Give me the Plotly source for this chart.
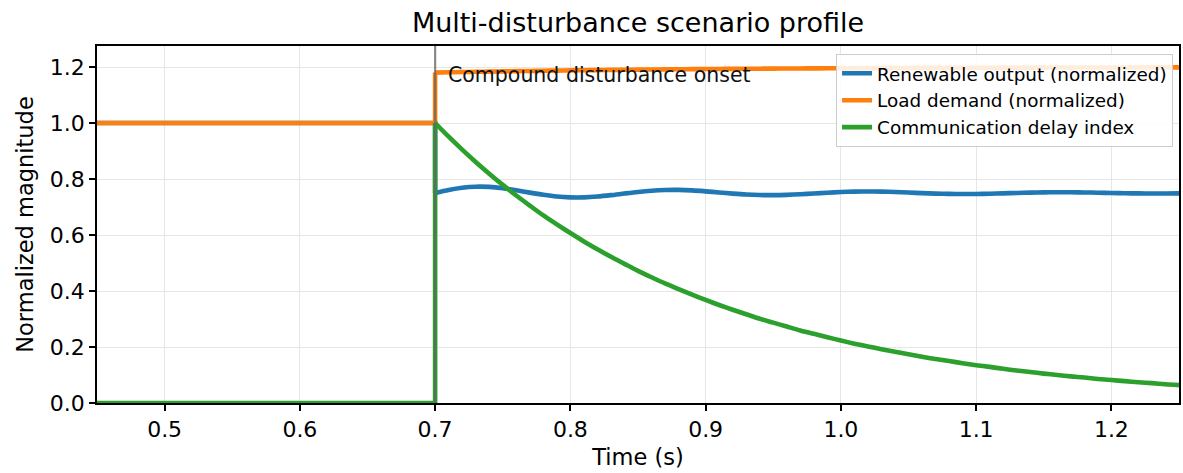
import plotly.graph_objects as go

# Time samples: steady state before onset, then 10 ms samples after onset
t_pre = [0.45, 0.70]
t_post = [0.70, 0.71, 0.72, 0.73, 0.74, 0.75, 0.76, 0.77, 0.78, 0.79,
          0.80, 0.81, 0.82, 0.83, 0.84, 0.85, 0.86, 0.87, 0.88, 0.89,
          0.90, 0.91, 0.92, 0.93, 0.94, 0.95, 0.96, 0.97, 0.98, 0.99,
          1.00, 1.01, 1.02, 1.03, 1.04, 1.05, 1.06, 1.07, 1.08, 1.09,
          1.10, 1.11, 1.12, 1.13, 1.14, 1.15, 1.16, 1.17, 1.18, 1.19,
          1.20, 1.21, 1.22, 1.23, 1.24, 1.25]

renewable_pre = [1.0, 1.0]
renewable_post = [0.7500, 0.7609, 0.7688, 0.7725, 0.7717, 0.7671, 0.7597, 0.7513, 0.7435, 0.7375,
                  0.7345, 0.7345, 0.7374, 0.7423, 0.7482, 0.7538, 0.7581, 0.7606, 0.7610, 0.7592,
                  0.7559, 0.7519, 0.7479, 0.7446, 0.7427, 0.7423, 0.7432, 0.7453, 0.7482, 0.7510,
                  0.7534, 0.7549, 0.7554, 0.7549, 0.7535, 0.7516, 0.7496, 0.7478, 0.7467, 0.7462,
                  0.7465, 0.7474, 0.7487, 0.7501, 0.7513, 0.7522, 0.7526, 0.7525, 0.7520, 0.7511,
                  0.7501, 0.7492, 0.7485, 0.7482, 0.7482, 0.7486]

load_pre = [1.0, 1.0]
load_post = [1.1800, 1.1810, 1.1819, 1.1828, 1.1836, 1.1844, 1.1852, 1.1859, 1.1866, 1.1872,
             1.1879, 1.1885, 1.1890, 1.1896, 1.1901, 1.1906, 1.1910, 1.1915, 1.1919, 1.1923,
             1.1926, 1.1930, 1.1933, 1.1937, 1.1940, 1.1943, 1.1945, 1.1948, 1.1951, 1.1953,
             1.1955, 1.1958, 1.1960, 1.1962, 1.1963, 1.1965, 1.1967, 1.1969, 1.1970, 1.1972,
             1.1973, 1.1974, 1.1976, 1.1977, 1.1978, 1.1979, 1.1980, 1.1981, 1.1982, 1.1983,
             1.1984, 1.1984, 1.1985, 1.1986, 1.1987, 1.1987]

delay_pre = [0.0, 0.0]
delay_post = [1.000, 0.951, 0.905, 0.861, 0.819, 0.779, 0.741, 0.705, 0.670, 0.638,
              0.607, 0.577, 0.549, 0.522, 0.497, 0.472, 0.449, 0.427, 0.407, 0.387,
              0.368, 0.350, 0.333, 0.317, 0.301, 0.287, 0.273, 0.259, 0.247, 0.235,
              0.223, 0.212, 0.202, 0.192, 0.183, 0.174, 0.165, 0.157, 0.150, 0.142,
              0.135, 0.129, 0.122, 0.116, 0.111, 0.105, 0.100, 0.095, 0.091, 0.086,
              0.082, 0.078, 0.074, 0.071, 0.067, 0.064]

onset_time = 0.70
x_ticks = [0.5, 0.6, 0.7, 0.8, 0.9, 1.0, 1.1, 1.2]
y_ticks = [0.0, 0.2, 0.4, 0.6, 0.8, 1.0, 1.2]

FONT = "DejaVu Sans"

series = [
    ("Renewable output (normalized)", "#1f77b4", renewable_pre, renewable_post),
    ("Load demand (normalized)", "#ff7f0e", load_pre, load_post),
    ("Communication delay index", "#2ca02c", delay_pre, delay_post),
]

fig = go.Figure()
for name, color, pre, post in series:
    # steady-state segment plus the step at onset (straight lines)
    fig.add_trace(go.Scatter(x=t_pre + [t_post[0]], y=pre + [post[0]], mode="lines",
                             name=name, legendgroup=name, showlegend=False,
                             line=dict(color=color, width=4.6), hoverinfo="skip"))
    # smooth post-onset response
    fig.add_trace(go.Scatter(x=t_post, y=post, mode="lines", name=name, legendgroup=name,
                             line=dict(color=color, width=4.6, shape="spline", smoothing=0.8)))

# Onset marker
fig.add_shape(type="line", x0=onset_time, x1=onset_time, y0=0, y1=1,
              xref="x", yref="paper", layer="above",
              line=dict(color="rgba(100,100,100,0.75)", width=2.2))
fig.add_annotation(x=onset_time + 0.008, y=1.17, xref="x", yref="y",
                   text="Compound disturbance onset", showarrow=False,
                   xanchor="left", yanchor="middle",
                   font=dict(family=FONT, size=20.5, color="#111111"))

axis_common = dict(showline=True, linecolor="black", linewidth=1.5, mirror=True,
                   ticks="outside", ticklen=6, tickwidth=1.5, tickcolor="black",
                   showgrid=True, gridcolor="#e6e6e6", gridwidth=1, zeroline=False,
                   tickfont=dict(family=FONT, size=22, color="black"))

fig.update_xaxes(range=[0.45, 1.25], tickvals=x_ticks, tickformat=".1f",
                 title=dict(text="Time (s)", font=dict(family=FONT, size=22.5, color="black"),
                            standoff=8),
                 **axis_common)
fig.update_yaxes(range=[0, 1.275], tickvals=y_ticks, tickformat=".1f",
                 title=dict(text="Normalized magnitude", font=dict(family=FONT, size=22.5, color="black"),
                            standoff=10),
                 **axis_common)

fig.update_layout(
    width=1183, height=473,
    margin=dict(l=97, r=2, t=46, b=70),
    paper_bgcolor="white", plot_bgcolor="white",
    font=dict(family=FONT, color="black"),
    title=dict(text="Multi-disturbance scenario profile", x=0.5, xref="paper",
               xanchor="center", y=0.953, yanchor="middle",
               font=dict(family=FONT, size=27, color="black")),
    legend=dict(x=0.9945, y=0.978, xanchor="right", yanchor="top",
                tracegroupgap=0,
                bgcolor="rgba(255,255,255,0.85)", bordercolor="#cccccc", borderwidth=1,
                font=dict(family=FONT, size=18.4, color="black")),
    showlegend=True,
)

fig.write_html("out.html")
